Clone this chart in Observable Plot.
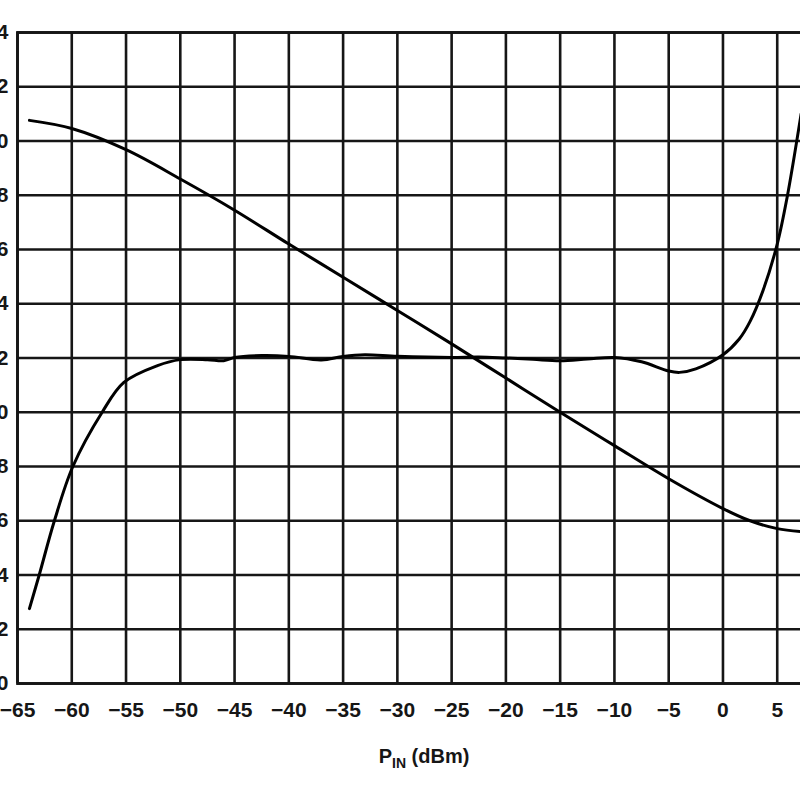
<!DOCTYPE html>
<html>
<head>
<meta charset="utf-8">
<script src="https://cdn.jsdelivr.net/npm/d3@7"></script>
<script src="https://cdn.jsdelivr.net/npm/@observablehq/plot@0.6"></script>
<style>
  html, body { margin: 0; padding: 0; background: #fff; overflow: hidden; width: 800px; height: 800px; }
  #chart { position: relative; width: 800px; height: 800px; overflow: hidden; }
  #chart svg { position: absolute; left: -43px; top: 0; max-width: none !important; width: 880px !important; height: 800px !important; }
</style>
</head>
<body>
<div id="chart"></div>
<script>
// Tick values
const xTicks = [-65, -60, -55, -50, -45, -40, -35, -30, -25, -20, -15, -10, -5, 0, 5, 10];
const yTicks = [0, 2, 4, 6, 8, 10, 12, 14, 16, 18, 20, 22, 24];

// Curve A (falling)
const aX = [-63.9, -60, -55, -50, -45, -40, -35, -30, -25, -20, -15, -10, -5, 0, 2.5, 5, 7.2];
const aY = [20.76, 20.46, 19.68, 18.6, 17.45, 16.2, 14.98, 13.75, 12.52, 11.26, 10.0, 8.77, 7.55, 6.45, 6.0, 5.71, 5.60];

// Curve B (rising, flat, rising)
const bX = [-63.9, -63.0, -61.6, -59.9, -57.2, -55.2, -52.1, -50, -47.5, -46, -45, -42.5, -40, -37, -35, -33, -30, -25, -22.5, -20, -17.5, -15, -12.5, -10, -7.5, -5, -4, -2.5, 0, 1.5, 2.5, 3.7, 5, 5.9, 7.2];
const bY = [2.76, 4.0, 6.0, 8.0, 10.0, 11.1, 11.72, 11.94, 11.94, 11.9, 12.02, 12.09, 12.06, 11.93, 12.06, 12.12, 12.06, 12.02, 12.04, 12.0, 11.95, 11.9, 11.96, 12.02, 11.86, 11.52, 11.47, 11.6, 12.12, 12.7, 13.35, 14.5, 16.2, 17.9, 21.0];

const curveA = aX.map((x, i) => ({x, y: aY[i]}));
const curveB = bX.map((x, i) => ({x, y: bY[i]}));

const ink = "#161616";

const plot = Plot.plot({
  width: 880,
  height: 800,
  marginLeft: 60,
  marginRight: 6,
  marginTop: 32,
  marginBottom: 117,
  style: {fontFamily: "'Liberation Sans', Arial, sans-serif", fontSize: "21px", fontWeight: "bold", color: ink, background: "#fff"},
  x: {domain: [-65, 10], ticks: xTicks, tickSize: 0, tickPadding: 19, label: null, tickFormat: d => d3.format("d")(d).replace("-", "\u2013")},
  y: {domain: [0, 24], ticks: yTicks, tickSize: 0, tickPadding: 9, label: null, tickFormat: d => String(d)},
  marks: [
    Plot.ruleX(xTicks, {stroke: ink, strokeWidth: 2.6, strokeOpacity: 1}),
    Plot.ruleY(yTicks, {stroke: ink, strokeWidth: 2.6, strokeOpacity: 1}),
    Plot.frame({stroke: ink, strokeWidth: 2.8}),
    Plot.line(curveA, {x: "x", y: "y", curve: "catmull-rom", stroke: "#000", strokeWidth: 3}),
    Plot.line(curveB, {x: "x", y: "y", curve: "catmull-rom", stroke: "#000", strokeWidth: 3})
  ]
});

// x-axis title with subscript
const xs = plot.scale("x");
const cx = (xs.apply(-65) + xs.apply(10)) / 2;
const t = d3.select(plot).append("text")
  .attr("x", cx)
  .attr("y", 763)
  .attr("text-anchor", "middle")
  .attr("fill", ink)
  .attr("font-family", "'Liberation Sans', Arial, sans-serif")
  .attr("font-weight", "bold")
  .attr("font-size", 20);
t.append("tspan").text("P");
t.append("tspan").attr("font-size", 14).attr("dy", 5).text("IN");
t.append("tspan").attr("dy", -5).text(" (dBm)");

document.getElementById("chart").appendChild(plot);
</script>
</body>
</html>
